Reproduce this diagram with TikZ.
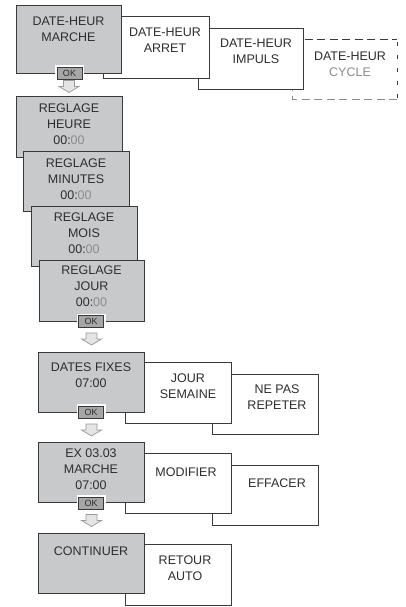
\documentclass[tikz,border=0pt]{standalone}
\usepackage{fontspec}
\setmainfont{Liberation Sans}
\usetikzlibrary{calc}
\definecolor{ln}{HTML}{3A3A3A}
\definecolor{gf}{HTML}{C8C9CB}
\definecolor{okf}{HTML}{A6A6A6}
\definecolor{tx}{HTML}{2E2E2E}
\definecolor{lt}{HTML}{8C8C8C}
\definecolor{af}{HTML}{E4E4E4}
\definecolor{ao}{HTML}{9A9A9A}
\newcommand{\hollowarrow}[1]{%
  \draw[harrow] (#1) ++(-5.5,0) -- ++(11,0) -- ++(0,6) -- ++(4.5,0)
    -- ++(-10,6) -- ++(-10,-6) -- ++(4.5,0) -- cycle;}
\begin{document}
\begin{tikzpicture}[x=1pt,y=-1pt,
  box/.style={draw=ln, line width=0.9pt, inner sep=0pt, outer sep=0pt},
  gbox/.style={box, fill=gf},
  wbox/.style={box, fill=white},
  txt/.style={anchor=north, inner sep=0pt, align=center, text=tx,
    font=\fontsize{12.5}{16}\selectfont, execute at begin node=\strut},
  okbtn/.style={draw=ln, fill=okf, line width=0.8pt, minimum width=25pt,
    minimum height=12pt, inner sep=0pt, text=tx,
    font=\fontsize{9}{10}\selectfont, preaction={draw=white, line width=4pt}},
  harrow/.style={draw=ao, fill=af, line width=0.7pt, line join=miter}]
\useasboundingbox[fill=white] (0,0) rectangle (406,607);

% ---------- top row ----------
\node[box, draw=none, fill=white, minimum width=105pt, minimum height=60pt] (c1) at (344.5,69) {};
\draw[ln, line width=0.9pt, dash pattern=on 8pt off 4.5pt] (c1.north west) -- (c1.north east);
\draw[ln, line width=0.9pt, dash pattern=on 4pt off 9pt, dash phase=-3pt] (c1.north east) -- (c1.south east);
\draw[lt, line width=0.9pt, dash pattern=on 8pt off 4.5pt] (c1.south east) -- (c1.south west) -- (c1.north west);
\node[txt] (c1t) at (350,51.8) {DATE-HEUR\\\textcolor{lt}{CYCLE}};

\node[wbox, minimum width=105pt, minimum height=61pt] (i1) at (250.5,58.5) {};
\node[txt] (i1t) at (256,38.8) {DATE-HEUR\\IMPULS};

\node[wbox, minimum width=106pt, minimum height=62pt] (a1) at (156,47) {};
\node[txt] (a1t) at (165,27.8) {DATE-HEUR\\ARRET};

\node[gbox, minimum width=105pt, minimum height=68pt] (m1) at (68.5,39) {};
\node[txt] (m1t) at (68.5,16.8) {DATE-HEUR\\MARCHE};
\node[okbtn] (ok1) at (69.5,73.5) {OK};

\coordinate (ar1) at (69,80.5);
\hollowarrow{ar1}

% ---------- settings cascade ----------
\node[gbox, minimum width=106pt, minimum height=61pt] (h) at (69,126.5) {};
\node[txt] (ht) at (69,103.8) {REGLAGE\\HEURE\\00:\textcolor{lt}{00}};

\node[gbox, minimum width=106pt, minimum height=60pt] (mn) at (76,181) {};
\node[txt] (mnt) at (76,158.8) {REGLAGE\\MINUTES\\00:\textcolor{lt}{00}};

\node[gbox, minimum width=106pt, minimum height=60pt] (mo) at (84,236) {};
\node[txt] (mot) at (84,212.8) {REGLAGE\\MOIS\\00:\textcolor{lt}{00}};

\node[gbox, minimum width=105pt, minimum height=61pt] (jr) at (91.5,290.5) {};
\node[txt] (jrt) at (91.5,265.8) {REGLAGE\\JOUR\\00:\textcolor{lt}{00}};
\node[okbtn] (ok2) at (91,321.5) {OK};

\coordinate (ar2) at (91.5,333);
\hollowarrow{ar2}

% ---------- dates fixes ----------
\node[wbox, minimum width=106pt, minimum height=60pt] (npr) at (265,404) {};
\node[txt] (nprt) at (277,384.8) {NE PAS\\REPETER};

\node[wbox, minimum width=106pt, minimum height=61pt] (js) at (178,392.5) {};
\node[txt] (jst) at (188,373.8) {JOUR\\SEMAINE};

\node[gbox, minimum width=106pt, minimum height=60pt] (df) at (91,382) {};
\node[txt] (dft) at (91,362.8) {DATES FIXES\\07:00};
\node[okbtn] (ok3) at (91,412) {OK};

\coordinate (ar3) at (91.5,424);
\hollowarrow{ar3}

% ---------- example ----------
\node[wbox, minimum width=106pt, minimum height=60pt] (eff) at (265,495) {};
\node[txt] (efft) at (277,475.8) {EFFACER};

\node[wbox, minimum width=106pt, minimum height=60pt] (mod) at (178,483) {};
\node[txt] (modt) at (186,464.8) {MODIFIER};

\node[gbox, minimum width=106pt, minimum height=60pt] (ex) at (91,472) {};
\node[txt] (ext) at (91,448.8) {EX 03.03\\MARCHE\\07:00};
\node[okbtn] (ok4) at (91,503) {OK};

\coordinate (ar4) at (91.5,514.5);
\hollowarrow{ar4}

% ---------- continuer ----------
\node[wbox, minimum width=106pt, minimum height=61pt] (ret) at (178,574.5) {};
\node[txt] (rett) at (185,555.8) {RETOUR\\AUTO};

\node[gbox, minimum width=106pt, minimum height=60pt] (cont) at (91,563) {};
\node[txt] (contt) at (91,543.8) {CONTINUER};
\end{tikzpicture}
\end{document}
